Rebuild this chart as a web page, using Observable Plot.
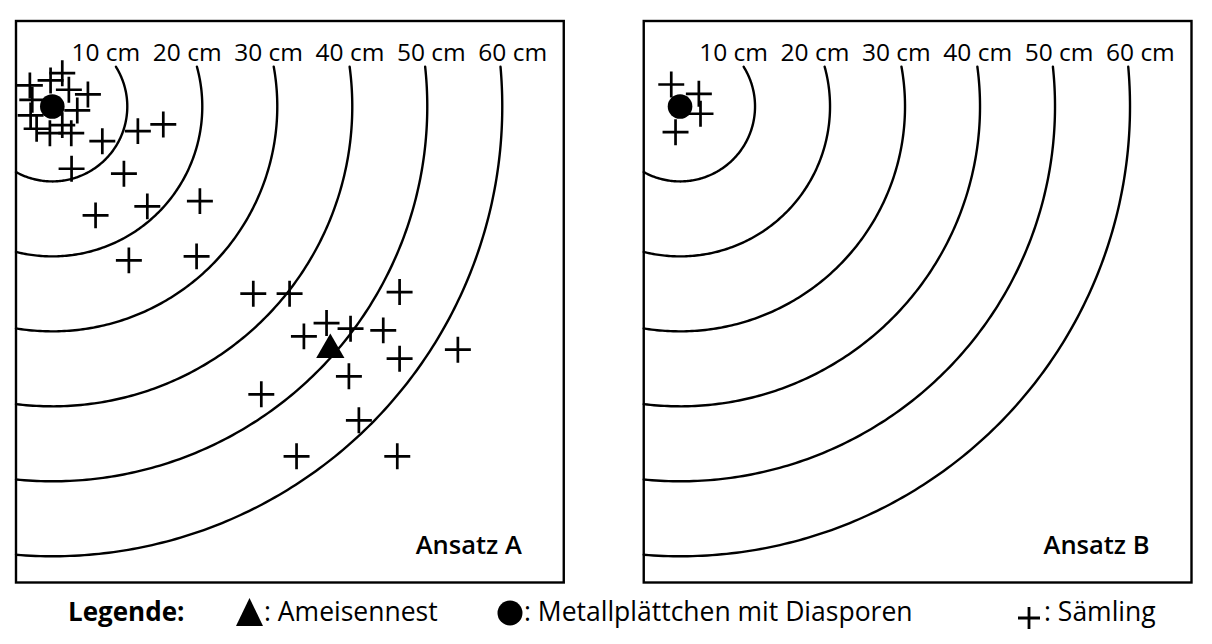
<!DOCTYPE html>
<html><head><meta charset="utf-8">
<script src="https://cdn.jsdelivr.net/npm/d3@7"></script>
<script src="https://cdn.jsdelivr.net/npm/@observablehq/plot@0.6"></script>
<style>
body{margin:0;background:#fff;font-family:"Open Sans",sans-serif;}
#chart{width:1212px;height:590px;}
#legend{position:relative;width:1212px;height:54px;font-size:26.5px;color:#000;}
#legend .t{position:absolute;top:5px;line-height:32px;white-space:nowrap;}
#legend .b{font-weight:700;font-size:26px;}
#legend svg{position:absolute;overflow:visible;}
</style></head><body>
<div id="chart"></div>
<div id="legend">
  <span class="t b" style="left:68px">Legende:</span>
  <svg style="left:235px;top:7px" width="29" height="30"><polygon points="14.5,1 28,29 1,29" fill="#000"/></svg>
  <span class="t" style="left:264px">: Ameisennest</span>
  <svg style="left:497px;top:10px" width="26" height="26"><circle cx="13" cy="13" r="12.5" fill="#000"/></svg>
  <span class="t" style="left:524px">: Metallplättchen mit Diasporen</span>
  <svg style="left:1018px;top:17px" width="22" height="22"><path d="M0,11H22M11,0V22" stroke="#000" stroke-width="2.8"/></svg>
  <span class="t" style="left:1044px">: Sämling</span>
</div>
<script>
// ---- data (cm, origin = metal plate, y grows downward) ----
const panels = ["A", "B"];
const panelTitles = ["Ansatz A", "Ansatz B"];
const ringRadii = [10, 20, 30, 40, 50, 60];
const ringLabels = ["10 cm", "20 cm", "30 cm", "40 cm", "50 cm", "60 cm"];
const seedAX = [1.33, -0.23, -2.99, 2.21, 4.75, -2.67, 3.33, -2.89, -2.09, -0.32, 1.33, 2.53,
  6.67, 11.41, 14.80, 2.57, 9.55, 5.77, 12.67, 19.68, 10.21, 19.24,
  26.80, 31.64, 46.31, 36.57, 39.77, 44.13, 33.55, 46.31, 54.08, 39.55, 27.87, 40.88, 32.57, 46.00];
const seedAY = [-4.44, -3.47, -2.80, -2.23, -1.60, -0.89, 0.53, 1.20, 2.97, 3.56, 2.49, 3.56,
  4.63, 3.29, 2.40, 8.31, 8.97, 14.53, 13.33, 12.63, 20.53, 20.00,
  24.97, 24.97, 24.76, 28.89, 29.64, 29.87, 30.67, 33.64, 32.44, 36.00, 38.40, 41.87, 46.67, 46.67];
const seedBX = [-1.17, 2.51, 2.73, -0.60];
const seedBY = [-2.93, -1.69, 0.97, 3.43];
const nestPanel = ["A"];
const nestX = [37.07];
const nestY = [32.45];
const plateX = [0];
const plateY = [0];

// ---- layout ----
const xLeft = -4.84, xRight = 68.2, yTop = -11.4, yBottom = 63.5;
const arcTop = -5.3; // arcs stop just below their labels

const arcs = [];
for (const p of panels) {
  for (const r of ringRadii) {
    const t0 = Math.asin(arcTop / r), t1 = Math.acos(xLeft / r);
    const n = 160;
    for (let i = 0; i <= n; i++) {
      const t = t0 + (t1 - t0) * i / n;
      arcs.push({panel: p, r, x: r * Math.cos(t), y: r * Math.sin(t)});
    }
  }
}
const labels = [];
for (const p of panels) ringRadii.forEach((r, i) => labels.push({panel: p, text: ringLabels[i], x: r * 1.085 - 8.3, y: -6.0}));
const seeds = [
  ...seedAX.map((x, i) => ({panel: "A", x, y: seedAY[i]})),
  ...seedBX.map((x, i) => ({panel: "B", x, y: seedBY[i]}))
];
const plates = panels.map(p => ({panel: p, x: plateX[0], y: plateY[0]}));
const nests = nestPanel.map((p, i) => ({panel: p, x: nestX[i], y: nestY[i]}));
const titles = panels.map((p, i) => ({panel: p, text: panelTitles[i], x: 62.6, y: 59.7}));

const chart = Plot.plot({
  width: 1212, height: 590,
  marginLeft: 15.5, marginRight: 21, marginTop: 20.5, marginBottom: 8,
  style: {fontFamily: "Open Sans", background: "#fff", color: "#000"},
  fx: {domain: panels, paddingInner: 0.1274, paddingOuter: 0, round: false, axis: null, label: null},
  x: {domain: [xLeft, xRight], axis: null},
  y: {domain: [yTop, yBottom], reverse: true, axis: null},
  marks: [
    Plot.frame({stroke: "#000", strokeWidth: 2.4}),
    Plot.line(arcs, {x: "x", y: "y", z: "r", fx: "panel", stroke: "#000", strokeWidth: 2.4}),
    Plot.text(labels, {x: "x", y: "y", fx: "panel", text: "text", textAnchor: "start", lineAnchor: "bottom", fontSize: 24.5, fill: "#000"}),
    Plot.dot(seeds, {x: "x", y: "y", fx: "panel", symbol: "plus", r: 8.4, stroke: "#000", strokeWidth: 2.7}),
    Plot.dot(plates, {x: "x", y: "y", fx: "panel", r: 12.3, fill: "#000", stroke: null}),
    Plot.dot(nests, {x: "x", y: "y", fx: "panel", symbol: "triangle", r: 10.5, fill: "#000", stroke: null}),
    Plot.text(titles, {x: "x", y: "y", fx: "panel", text: "text", textAnchor: "end", lineAnchor: "bottom", fontSize: 25.5, fontWeight: 600, fill: "#000"})
  ]
});
document.getElementById("chart").appendChild(chart);
</script>
</body></html>
